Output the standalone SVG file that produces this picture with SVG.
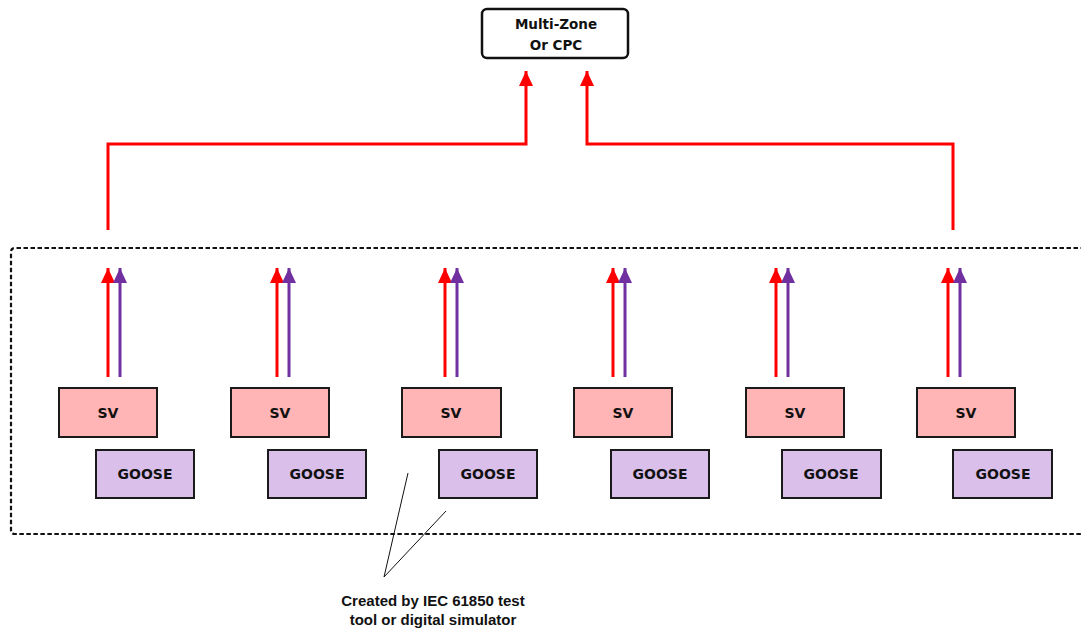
<svg xmlns="http://www.w3.org/2000/svg" width="1081" height="629" viewBox="0 0 1081 629">
<style>
.sv{fill:#FFB5B5;stroke:#1a1a1a;stroke-width:2}
.go{fill:#D9BFEA;stroke:#1a1a1a;stroke-width:2}
.lbl{font-family:"DejaVu Sans",sans-serif;font-weight:bold;font-size:14px;fill:#111;text-anchor:middle}
.top{font-family:"DejaVu Sans",sans-serif;font-weight:bold;font-size:13.5px;fill:#111;text-anchor:middle}
.cap{font-family:"Liberation Sans",Arial,sans-serif;font-weight:bold;font-size:15px;fill:#111;text-anchor:middle}
.r{stroke:#FF0000;stroke-width:3;fill:none}
.p{stroke:#7030A0;stroke-width:3;fill:none}
</style>
<defs>
<marker id="ar" markerUnits="userSpaceOnUse" markerWidth="16" markerHeight="16" viewBox="0 0 16 16" refX="15" refY="8" orient="auto"><path d="M0,1 L15,8 L0,15 Z" fill="#FF0000"/></marker>
<marker id="ap" markerUnits="userSpaceOnUse" markerWidth="16" markerHeight="16" viewBox="0 0 16 16" refX="15" refY="8" orient="auto"><path d="M0,1 L15,8 L0,15 Z" fill="#7030A0"/></marker>
</defs>
<rect x="0" y="0" width="1081" height="629" fill="#fff"/>
<g id="boundary">
<path d="M1085,248 L15,248 Q11,248 11,252 L11,530 Q11,534 15,534 L1085,534" fill="none" stroke="#111" stroke-width="2.2" stroke-dasharray="4.5,2.5"/>
</g>
<g id="cpc">
<rect x="482" y="9" width="146" height="49" rx="5" fill="#fff" stroke="#111" stroke-width="2.5"/>
<text class="top" x="556" y="29">Multi-Zone</text>
<text class="top" x="556" y="50">Or CPC</text>
</g>
<g id="connectors">
<path class="r" d="M108,230 L108,144 L526,144 L526,71" marker-end="url(#ar)"/>
<path class="r" d="M953,230 L953,144 L587,144 L587,71" marker-end="url(#ar)"/>
<path class="r" d="M108,377 L108,268" marker-end="url(#ar)"/>
<path class="p" d="M120,377 L120,268" marker-end="url(#ap)"/>
<path class="r" d="M277,377 L277,268" marker-end="url(#ar)"/>
<path class="p" d="M289,377 L289,268" marker-end="url(#ap)"/>
<path class="r" d="M445,377 L445,268" marker-end="url(#ar)"/>
<path class="p" d="M457,377 L457,268" marker-end="url(#ap)"/>
<path class="r" d="M613,377 L613,268" marker-end="url(#ar)"/>
<path class="p" d="M625,377 L625,268" marker-end="url(#ap)"/>
<path class="r" d="M776,377 L776,268" marker-end="url(#ar)"/>
<path class="p" d="M788,377 L788,268" marker-end="url(#ap)"/>
<path class="r" d="M948,377 L948,268" marker-end="url(#ar)"/>
<path class="p" d="M960,377 L960,268" marker-end="url(#ap)"/>
<path d="M408,473 L384,577 L446,511" fill="none" stroke="#111" stroke-width="1"/>
</g>
<g id="col1">
<rect class="sv" x="59" y="388" width="98" height="49"/><text class="lbl" x="108" y="418">SV</text>
<rect class="go" x="96" y="450" width="98" height="48"/><text class="lbl" x="145" y="479">GOOSE</text>
</g>
<g id="col2">
<rect class="sv" x="231" y="388" width="98" height="49"/><text class="lbl" x="280" y="418">SV</text>
<rect class="go" x="268" y="450" width="98" height="48"/><text class="lbl" x="317" y="479">GOOSE</text>
</g>
<g id="col3">
<rect class="sv" x="402" y="388" width="99" height="49"/><text class="lbl" x="451" y="418">SV</text>
<rect class="go" x="439" y="450" width="98" height="48"/><text class="lbl" x="488" y="479">GOOSE</text>
</g>
<g id="col4">
<rect class="sv" x="574" y="388" width="98" height="49"/><text class="lbl" x="623" y="418">SV</text>
<rect class="go" x="611" y="450" width="98" height="48"/><text class="lbl" x="660" y="479">GOOSE</text>
</g>
<g id="col5">
<rect class="sv" x="746" y="388" width="98" height="49"/><text class="lbl" x="795" y="418">SV</text>
<rect class="go" x="782" y="450" width="99" height="48"/><text class="lbl" x="831" y="479">GOOSE</text>
</g>
<g id="col6">
<rect class="sv" x="917" y="388" width="98" height="49"/><text class="lbl" x="966" y="418">SV</text>
<rect class="go" x="953" y="450" width="99" height="48"/><text class="lbl" x="1003" y="479">GOOSE</text>
</g>
<g id="caption">
<text class="cap" x="433" y="606">Created by IEC 61850 test</text>
<text class="cap" x="433" y="625">tool or digital simulator</text>
</g>
</svg>
